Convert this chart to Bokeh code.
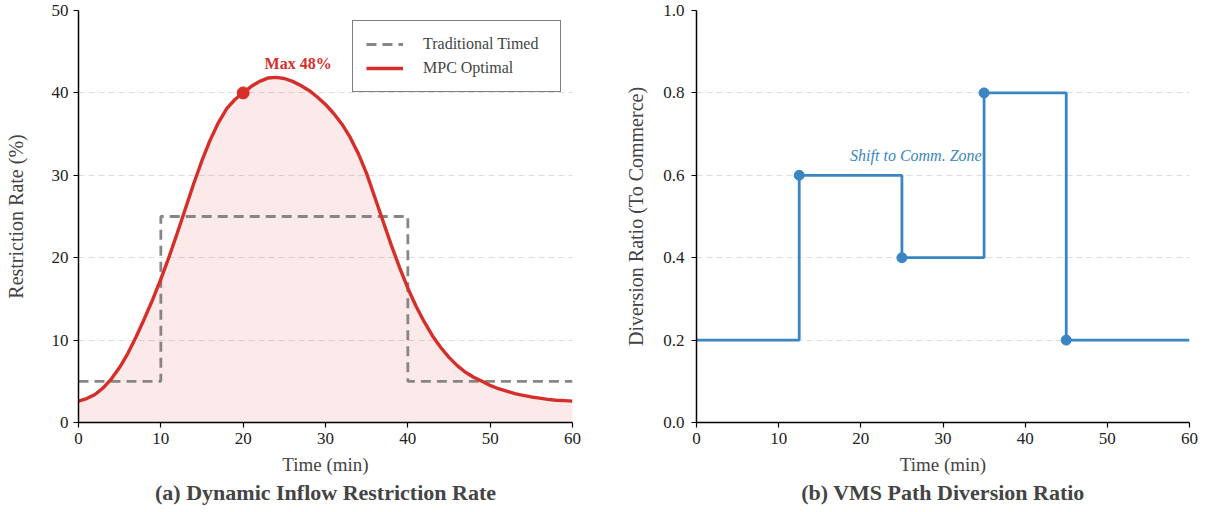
from bokeh.plotting import figure
from bokeh.layouts import row
from bokeh.models import Range1d, FixedTicker, Legend, LegendItem, Label, CustomJSTickFormatter
from bokeh.embed import file_html
from bokeh.resources import INLINE

# ---- data ----
t_mpc = list(range(0, 61))
rate_mpc = [2.6, 2.9, 3.4, 4.2, 5.3, 6.7, 8.4, 10.4, 12.6, 14.9, 17.4,
            20.1, 23.0, 26.0, 29.0, 31.8, 34.3, 36.4, 38.1, 39.2, 40.0,
            40.8, 41.4, 41.8, 41.88, 41.75, 41.4, 40.9, 40.3, 39.5, 38.6,
            37.5, 36.2, 34.6, 32.6, 30.2, 27.3, 24.4, 21.5, 18.8, 16.3,
            14.1, 12.2, 10.5, 9.1, 7.9, 6.9, 6.1, 5.5, 5.0, 4.5,
            4.1, 3.8, 3.5, 3.3, 3.1, 2.95, 2.8, 2.7, 2.65, 2.6]
t_timed = [0, 10, 40, 60]
rate_timed = [5, 25, 5, 5]
max_t = [20]
max_v = [40]

t_vms = [0, 12.5, 25, 35, 45, 60]
ratio_vms = [0.2, 0.6, 0.4, 0.8, 0.2, 0.2]
t_sw = [12.5, 25, 35, 45]
ratio_sw = [0.6, 0.4, 0.8, 0.2]

SERIF = "Liberation Serif"
RED = "#d62f2a"
BLUE = "#3a86c2"
GRAY = "#8a8585"


def style(p, xlabel, ylabel, yticks, gridticks, ylab_standoff):
    p.outline_line_color = None
    p.title.text_font = SERIF
    p.title.text_font_size = "22px"
    p.title.text_font_style = "bold"
    p.title.align = "center"
    p.title.standoff = 0
    for ax in (p.xaxis[0], p.yaxis[0]):
        ax.axis_label_text_font = SERIF
        ax.axis_label_text_font_size = "19px"
        ax.axis_label_text_font_style = "normal"
        ax.major_label_text_font = SERIF
        ax.major_label_text_font_size = "17px"
        ax.major_label_text_color = "#222222"
        ax.axis_line_color = "black"
        ax.axis_line_width = 1.5
        ax.major_tick_line_width = 1.2
        ax.major_tick_out = 5
        ax.major_tick_in = 0
        ax.minor_tick_line_color = None
    p.yaxis[0].axis_label_text_font_size = "20px"
    p.xaxis[0].axis_label = xlabel
    p.yaxis[0].axis_label = ylabel
    p.xaxis[0].ticker = FixedTicker(ticks=[0, 10, 20, 30, 40, 50, 60])
    p.yaxis[0].ticker = FixedTicker(ticks=yticks)
    p.xaxis[0].major_label_standoff = 5
    p.xaxis[0].axis_label_standoff = 7
    p.yaxis[0].major_label_standoff = 5
    p.yaxis[0].axis_label_standoff = ylab_standoff
    p.xgrid.visible = False
    p.ygrid.ticker = FixedTicker(ticks=gridticks)
    p.ygrid.grid_line_color = "#dddddd"
    p.ygrid.grid_line_dash = "6 4"
    p.ygrid.grid_line_width = 1.2


# ---- left panel ----
p1 = figure(width=620, height=512, output_backend="svg", toolbar_location=None,
            x_range=Range1d(0, 60), y_range=Range1d(0, 50),
            title="(a) Dynamic Inflow Restriction Rate", title_location="below",
            min_border_left=78, min_border_right=48, min_border_top=10,
            min_border_bottom=90)
style(p1, "Time (min)", "Restriction Rate (%)", [0, 10, 20, 30, 40, 50], [10, 20, 30, 40], 22)

p1.varea(x=t_mpc, y1=0, y2=rate_mpc, fill_color=RED, fill_alpha=0.1)
r_timed = p1.step(x=t_timed, y=rate_timed, mode="after", line_color=GRAY,
                  line_width=2.8, line_dash="10 6")
r_mpc = p1.line(x=t_mpc, y=rate_mpc, line_color=RED, line_width=3.4)
p1.scatter(x=max_t, y=max_v, size=12, fill_color=RED, line_color=RED)
p1.add_layout(Label(x=22.6, y=42.5, text="Max 48%", text_font=SERIF,
                    text_font_size="16px", text_font_style="bold", text_color=RED))

legend = Legend(items=[LegendItem(label="Traditional Timed", renderers=[r_timed]),
                       LegendItem(label="MPC Optimal", renderers=[r_mpc])],
                location=(274, 330))
legend.label_text_font = SERIF
legend.label_text_font_size = "16px"
legend.border_line_color = "black"
legend.border_line_width = 1.2
legend.background_fill_alpha = 1
legend.glyph_width = 37
legend.glyph_height = 20
legend.label_height = 20
legend.label_width = 124
legend.label_standoff = 20
legend.padding = 13
legend.spacing = 4
legend.margin = 0
p1.add_layout(legend)

# ---- right panel ----
p2 = figure(width=589, height=512, output_backend="svg", toolbar_location=None,
            x_range=Range1d(0, 60), y_range=Range1d(0, 1.0),
            title="(b) VMS Path Diversion Ratio", title_location="below",
            min_border_left=76, min_border_right=20, min_border_top=10,
            min_border_bottom=90)
style(p2, "Time (min)", "Diversion Ratio (To Commerce)", [0.0, 0.2, 0.4, 0.6, 0.8, 1.0],
      [0.2, 0.4, 0.6, 0.8], 13)
p2.yaxis[0].major_label_standoff = 7
p2.yaxis[0].formatter = CustomJSTickFormatter(code="return tick.toFixed(1);")

p2.step(x=t_vms, y=ratio_vms, mode="after", line_color=BLUE, line_width=2.8)
p2.scatter(x=t_sw, y=ratio_sw, size=10, fill_color=BLUE, line_color=BLUE)
p2.add_layout(Label(x=26.7, y=0.628, text="Shift to Comm. Zone", text_font=SERIF,
                    text_font_size="16px", text_font_style="italic", text_color=BLUE,
                    text_align="center"))

layout = row(p1, p2)
open("out.html", "w").write(file_html(layout, INLINE))
